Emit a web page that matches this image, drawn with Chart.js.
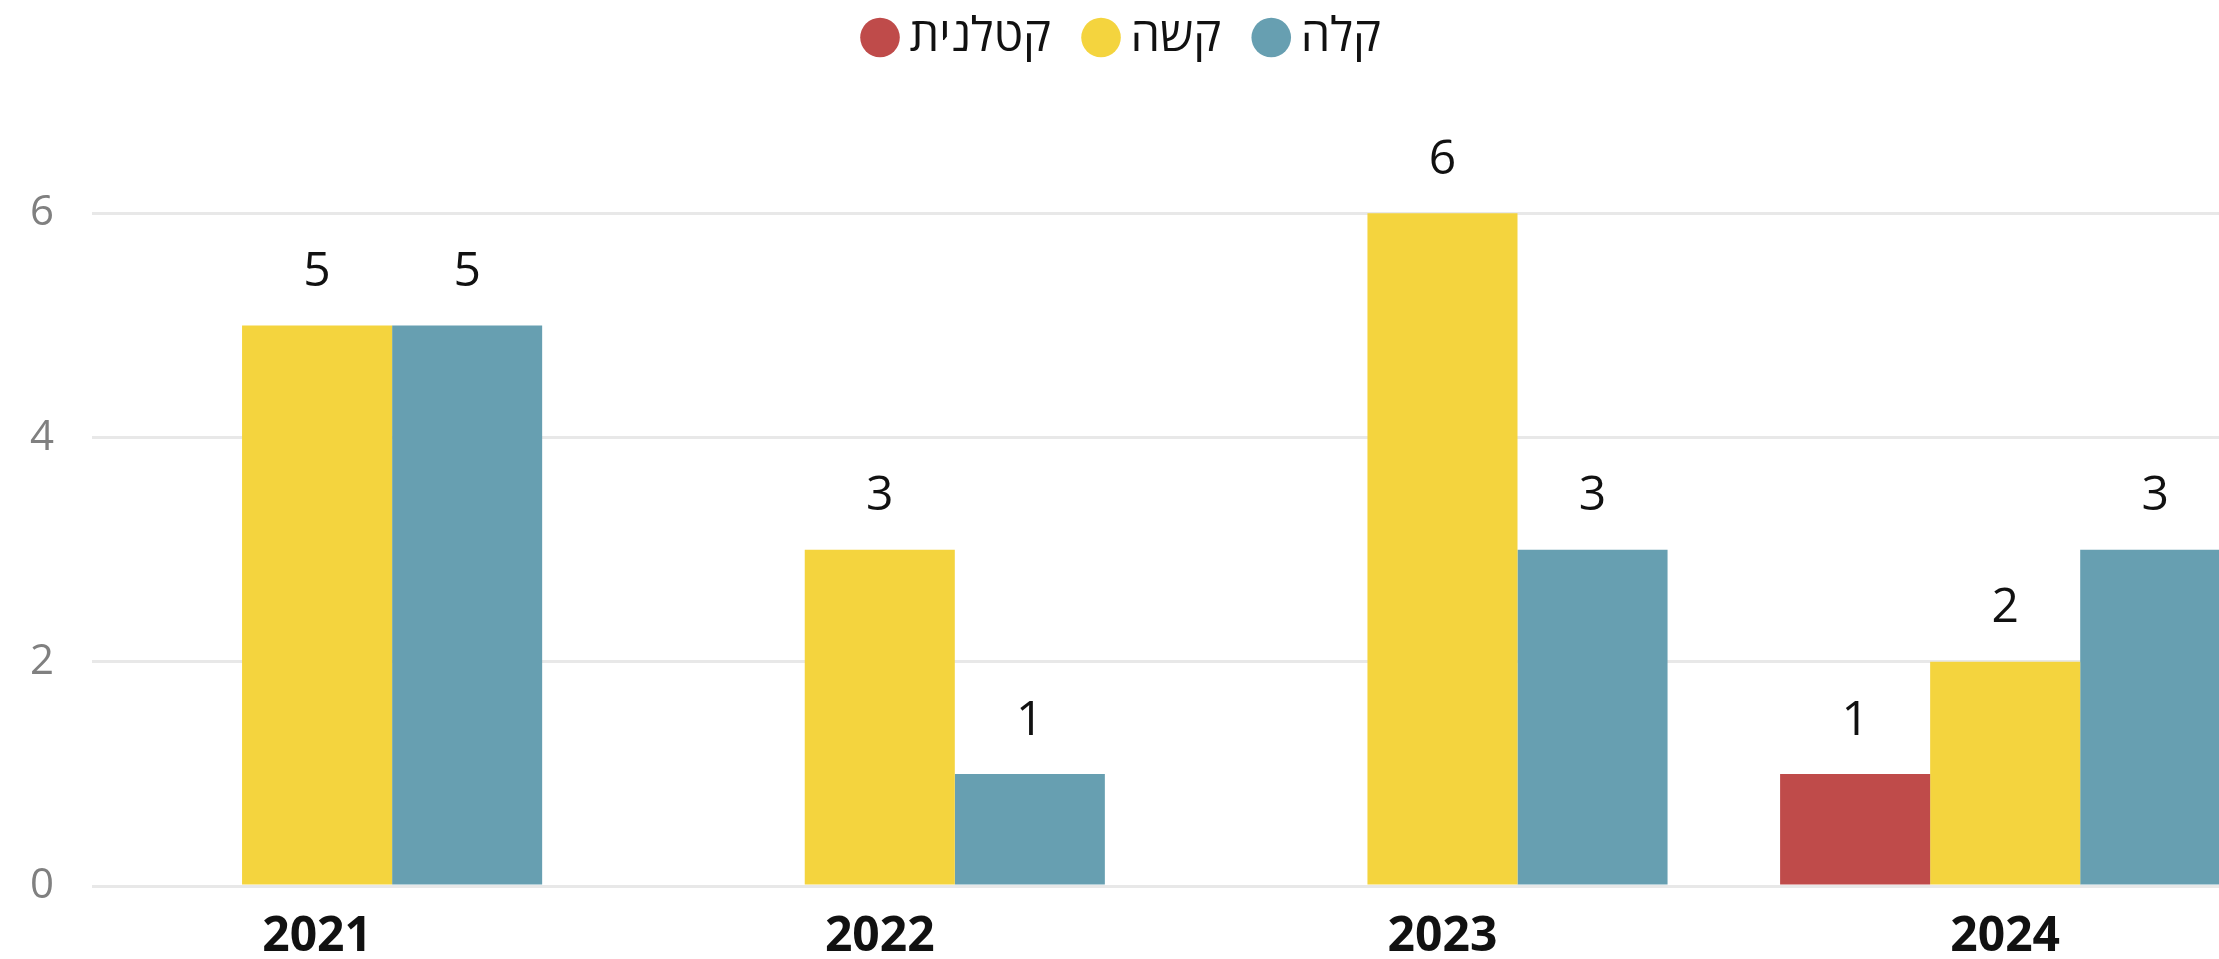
<!DOCTYPE html>
<html>
<head>
<meta charset="utf-8">
<script src="https://cdn.jsdelivr.net/npm/chart.js@4.4.1/dist/chart.umd.min.js"></script>
<style>
    html, body { margin: 0; padding: 0; background: #fff; overflow: hidden; }
    #wrap { width: 2219px; height: 959px; }
</style>
</head>
<body>
<div id="wrap"><canvas id="chart"></canvas></div>
<script>
// Data
const years = ['2021', '2022', '2023', '2024']
const seriesNames = ['קטלנית', 'קשה', 'קלה']
const fatal = [null, null, null, 1]
const hard = [5, 3, 6, 2]
const light = [5, 1, 3, 3]
const yTicks = [0, 2, 4, 6]

const colors = ['#BF4B4A', '#F4D43E', '#679FB1']
const fontFamily = "'Segoe UI', 'Open Sans', 'DejaVu Sans', sans-serif"

function toPoints(values) {
    return values.map((v, i) => ({ x: i, y: v }))
}

// Value labels above each bar
const valueLabels = {
    id: 'valueLabels',
    afterDatasetsDraw(chart) {
        const ctx = chart.ctx
        ctx.save()
        ctx.font = '48px ' + fontFamily
        ctx.fillStyle = '#111'
        ctx.textAlign = 'center'
        ctx.textBaseline = 'middle'
        chart.data.datasets.forEach((ds, di) => {
            const meta = chart.getDatasetMeta(di)
            meta.data.forEach((bar, i) => {
                const v = ds.data[i].y
                if (v === null) return
                ctx.fillText(String(v), bar.x, bar.y - 53)
            })
        })
        ctx.restore()
    }
}

const ctx = document.getElementById('chart').getContext('2d')

new Chart(ctx, {
    type: 'bar',
    data: {
        datasets: [fatal, hard, light].map((vals, i) => ({
            label: seriesNames[i],
            data: toPoints(vals),
            backgroundColor: colors[i],
            borderWidth: 0,
            categoryPercentage: 0.8,
            barPercentage: 1
        }))
    },
    options: {
        responsive: true,
        maintainAspectRatio: false,
        animation: false,
        layout: { padding: { top: -30, left: 0, right: -36, bottom: 0 } },
        plugins: {
            tooltip: { enabled: false },
            legend: {
                position: 'top',
                align: 'center',
                labels: {
                    usePointStyle: true,
                    pointStyle: 'circle',
                    boxWidth: 12,
                    boxHeight: 28,
                    padding: 44,
                    color: '#111',
                    font: { family: fontFamily, size: 47 }
                }
            }
        },
        scales: {
            // the picture is cut off on the right, so the last group runs past the edge
            x: {
                type: 'linear',
                offset: false,
                min: -0.4,
                max: 3.38,
                grid: { display: false, drawTicks: false },
                border: { display: false },
                afterBuildTicks: axis => {
                    axis.ticks = years.map((y, i) => ({ value: i }))
                },
                afterFit: axis => { axis.height = 73 },
                ticks: {
                    padding: 23,
                    color: '#111',
                    font: { family: fontFamily, size: 48, weight: 'bold' },
                    callback: v => years[v]
                }
            },
            y: {
                min: 0,
                max: 7.27,
                grid: { color: '#E8E8E8', lineWidth: 3, drawTicks: false },
                border: { display: false },
                afterBuildTicks: axis => {
                    axis.ticks = yTicks.map(v => ({ value: v }))
                },
                afterFit: axis => { axis.width = 92 },
                ticks: {
                    padding: 38,
                    color: '#808080',
                    font: { family: fontFamily, size: 42 }
                }
            }
        }
    },
    plugins: [valueLabels]
})
</script>
</body>
</html>
